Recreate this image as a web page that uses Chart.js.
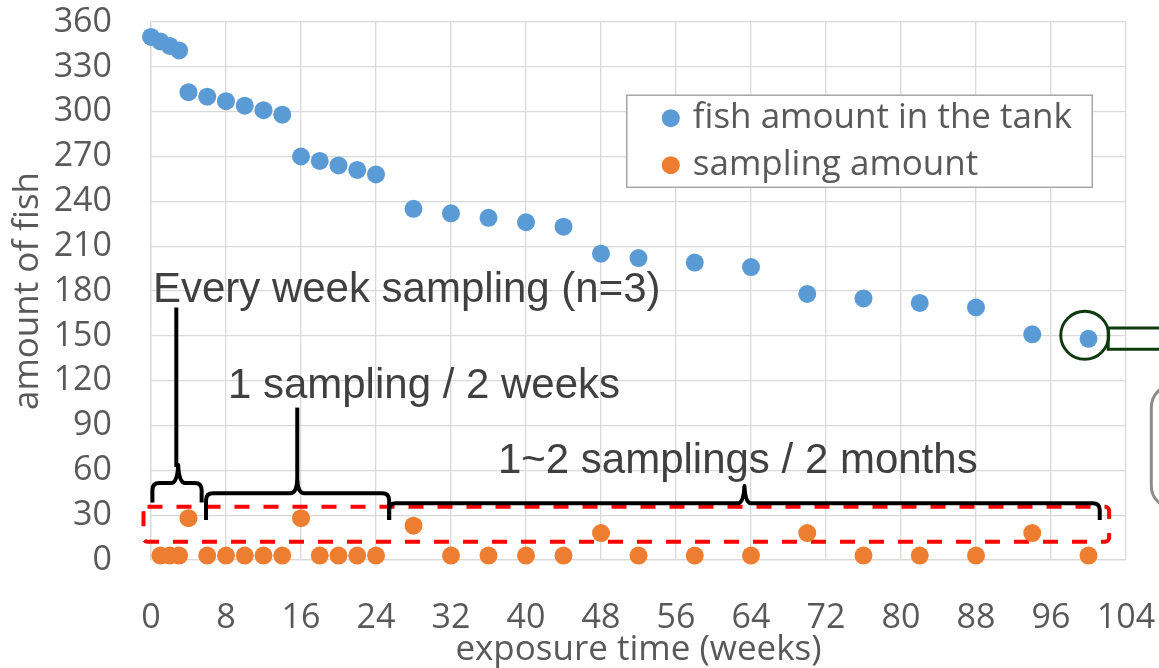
<!DOCTYPE html>
<html>
<head>
<meta charset="utf-8">
<title>Fish amount in the tank and sampling amount</title>
<script src="https://cdn.jsdelivr.net/npm/chart.js@4.4.1/dist/chart.umd.min.js"></script>
<style>
  html, body { margin: 0; padding: 0; background: #ffffff; }
  #wrap { width: 1159px; height: 668px; position: relative; }
</style>
</head>
<body>
<div id="wrap"><canvas id="chart" width="1159" height="668"></canvas></div>
<script>
// Exposure time (weeks) of each record
const tankWeeks = [0, 1, 2, 3, 4, 6, 8, 10, 12, 14, 16, 18, 20, 22, 24, 28, 32, 36, 40, 44, 48, 52, 58, 64, 70, 76, 82, 88, 94, 100];
// Fish remaining in the tank after each sampling
const fishInTank = [350, 347, 344, 341, 313, 310, 307, 304, 301, 298, 270, 267, 264, 261, 258, 235, 232, 229, 226, 223, 205, 202, 199, 196, 178, 175, 172, 169, 151, 148];
// Sampling events
const samplingWeeks = [1, 2, 3, 4, 6, 8, 10, 12, 14, 16, 18, 20, 22, 24, 28, 32, 36, 40, 44, 48, 52, 58, 64, 70, 76, 82, 88, 94, 100];
const samplingAmount = [3, 3, 3, 28, 3, 3, 3, 3, 3, 28, 3, 3, 3, 3, 23, 3, 3, 3, 3, 18, 3, 3, 3, 18, 3, 3, 3, 18, 3];

const seriesNames = ['fish amount in the tank', 'sampling amount'];
const xTitle = 'exposure time (weeks)';
const yTitle = 'amount of fish';

const xRange = { min: 0, max: 104, step: 8 };
const yRange = { min: 0, max: 360, step: 30 };

// Sampling-schedule notes, in axis units
const scheduleNotes = [
  { text: 'Every week sampling (n=3)', x: 0.2, y: 172.7 },
  { text: '1 sampling / 2 weeks', x: 8.2, y: 108.3 },
  { text: '1~2 samplings / 2 months', x: 37.0, y: 58.0 }
];
const scheduleBraces = [
  { from: 0.15, to: 5.4, bar: 51.5, tip: 38.5, peakX: 2.9, peak: 63.5, stemX: 2.7, stemTop: 169 },
  { from: 5.87, to: 25.4, bar: 44.7, tip: 26.8, peakX: 15.6, peak: 53, stemX: 15.6, stemTop: 102 },
  { from: 25.4, to: 101.2, bar: 37.9, tip: 26.8, peakX: 63.3, peak: 49.5, stemX: null, stemTop: null }
];
const samplingFrame = { x0: -0.8, x1: 102.2, y0: 12.2, y1: 35.6 };
const lastPointMark = { x: 99.6, y: 150.4, callTop: 155.2, callBottom: 141.1, callLeft: 102.1 };
const sideBox = { x: 106.7, y0: 34.8, y1: 117 };
const legendBox = { x0: 50.75, x1: 100.4, y0: 249.4, y1: 311 };

const BLUE = '#5b9bd5';
const ORANGE = '#ed7d31';
const GRID = '#d9d9d9';
const TICK = '#595959';
const UI_FONT = '"Open Sans", "Noto Sans", sans-serif';

const notesPlugin = {
  id: 'scheduleNotes',
  beforeDatasetsDraw(chart) {
    const { ctx, scales: { x, y } } = chart;
    const X = v => x.getPixelForValue(v);
    const Y = v => y.getPixelForValue(v);
    ctx.save();

    // red dashed frame around the sampling points
    ctx.strokeStyle = '#ff0000';
    ctx.lineWidth = 4;
    ctx.setLineDash([15, 14]);
    ctx.beginPath();
    ctx.roundRect(X(samplingFrame.x0), Y(samplingFrame.y1),
      X(samplingFrame.x1) - X(samplingFrame.x0), Y(samplingFrame.y0) - Y(samplingFrame.y1), 4);
    ctx.stroke();
    ctx.setLineDash([]);

    // braces and their stems
    ctx.strokeStyle = '#000000';
    ctx.lineWidth = 4;
    ctx.lineJoin = 'round';
    ctx.lineCap = 'butt';
    scheduleBraces.forEach(b => {
      const xl = X(b.from), xr = X(b.to), yb = Y(b.bar), yt = Y(b.tip);
      const xp = X(b.peakX), yp = Y(b.peak);
      const r = 7;
      ctx.beginPath();
      ctx.moveTo(xl, yt);
      ctx.lineTo(xl, yb + r);
      ctx.quadraticCurveTo(xl, yb, xl + r, yb);
      ctx.lineTo(xp - r, yb);
      ctx.quadraticCurveTo(xp - 1, yb, xp, yp);
      ctx.quadraticCurveTo(xp + 1, yb, xp + r, yb);
      ctx.lineTo(xr - r, yb);
      ctx.quadraticCurveTo(xr, yb, xr, yb + r);
      ctx.lineTo(xr, yt);
      ctx.stroke();
      if (b.stemX !== null) {
        ctx.beginPath();
        ctx.moveTo(X(b.stemX), Y(b.stemTop));
        ctx.lineTo(X(b.stemX), yp + 2);
        ctx.stroke();
      }
    });

    // schedule texts
    ctx.fillStyle = '#404040';
    ctx.font = '42px "Liberation Sans", Arial, sans-serif';
    ctx.textAlign = 'left';
    ctx.textBaseline = 'alphabetic';
    scheduleNotes.forEach(n => ctx.fillText(n.text, X(n.x), Y(n.y)));
    ctx.restore();
  },
  afterDatasetsDraw(chart) {
    const { ctx, scales: { x, y } } = chart;
    const X = v => x.getPixelForValue(v);
    const Y = v => y.getPixelForValue(v);
    ctx.save();

    // circle on the last tank value with its call-out bar
    ctx.strokeStyle = '#0d3b0d';
    ctx.lineWidth = 3;
    ctx.beginPath();
    ctx.arc(X(lastPointMark.x), Y(lastPointMark.y), 24, 0, Math.PI * 2);
    ctx.stroke();
    ctx.beginPath();
    ctx.moveTo(chart.width + 2, Y(lastPointMark.callTop));
    ctx.lineTo(X(lastPointMark.callLeft), Y(lastPointMark.callTop));
    ctx.lineTo(X(lastPointMark.callLeft), Y(lastPointMark.callBottom));
    ctx.lineTo(chart.width + 2, Y(lastPointMark.callBottom));
    ctx.stroke();

    // rounded box at the right margin
    ctx.strokeStyle = '#8c8c8c';
    ctx.lineWidth = 3;
    ctx.beginPath();
    ctx.roundRect(X(sideBox.x), Y(sideBox.y1), 200, Y(sideBox.y0) - Y(sideBox.y1), 22);
    ctx.stroke();

    ctx.restore();
  },
  afterDraw(chart) {
    // legend inside the plot
    const { ctx, scales: { x, y } } = chart;
    const bx = x.getPixelForValue(legendBox.x0), by = y.getPixelForValue(legendBox.y1);
    const bw = x.getPixelForValue(legendBox.x1) - bx, bh = y.getPixelForValue(legendBox.y0) - by;
    ctx.save();
    ctx.fillStyle = '#ffffff';
    ctx.fillRect(bx, by, bw, bh);
    ctx.strokeStyle = '#a6a6a6';
    ctx.lineWidth = 1.5;
    ctx.strokeRect(bx, by, bw, bh);
    ctx.font = '35px ' + UI_FONT;
    ctx.textBaseline = 'middle';
    ctx.textAlign = 'left';
    chart.data.datasets.forEach((ds, i) => {
      const cy = by + 23 + i * 47;
      ctx.fillStyle = ds.backgroundColor;
      ctx.beginPath();
      ctx.arc(bx + 44, cy, 9, 0, Math.PI * 2);
      ctx.fill();
      ctx.fillStyle = TICK;
      ctx.fillText(ds.label, bx + 66, cy);
    });
    ctx.restore();
  }
};

new Chart(document.getElementById('chart'), {
  type: 'scatter',
  data: {
    datasets: [
      {
        label: seriesNames[0],
        data: tankWeeks.map((w, i) => ({ x: w, y: fishInTank[i] })),
        backgroundColor: BLUE,
        borderColor: BLUE,
        pointRadius: 9,
        pointBorderWidth: 0,
        clip: false
      },
      {
        label: seriesNames[1],
        data: samplingWeeks.map((w, i) => ({ x: w, y: samplingAmount[i] })),
        backgroundColor: ORANGE,
        borderColor: ORANGE,
        pointRadius: 9,
        pointBorderWidth: 0,
        clip: false
      }
    ]
  },
  options: {
    responsive: false,
    devicePixelRatio: 1,
    animation: false,
    layout: { padding: { left: 0, right: 33, top: 22, bottom: 0 } },
    plugins: { legend: { display: false }, tooltip: { enabled: false } },
    scales: {
      x: {
        type: 'linear',
        min: xRange.min, max: xRange.max,
        ticks: { stepSize: xRange.step, autoSkip: false, color: TICK, font: { family: UI_FONT, size: 34 }, padding: 38, maxRotation: 0 },
        grid: { color: GRID, drawTicks: false, lineWidth: 1.3 },
        border: { display: true, color: GRID, width: 1.3 },
        title: { display: true, text: xTitle, color: TICK, font: { family: UI_FONT, size: 35 }, padding: { top: 0, bottom: -3 } },
        afterFit(scale) {
          scale.height = 108;
          scale.paddingLeft = 0;
          scale.paddingRight = 0;
        }
      },
      y: {
        type: 'linear',
        min: yRange.min, max: yRange.max,
        ticks: { stepSize: yRange.step, autoSkip: false, color: TICK, font: { family: UI_FONT, size: 34 }, padding: 39 },
        grid: { color: GRID, drawTicks: false, lineWidth: 1.3 },
        border: { display: true, color: GRID, width: 1.3 },
        title: { display: true, text: yTitle, color: TICK, font: { family: UI_FONT, size: 35 }, padding: { top: 7, bottom: 0 } },
        afterFit(scale) {
          scale.width = 151;
          scale.paddingTop = 0;
          scale.paddingBottom = 0;
        }
      }
    }
  },
  plugins: [notesPlugin]
});
</script>
</body>
</html>
